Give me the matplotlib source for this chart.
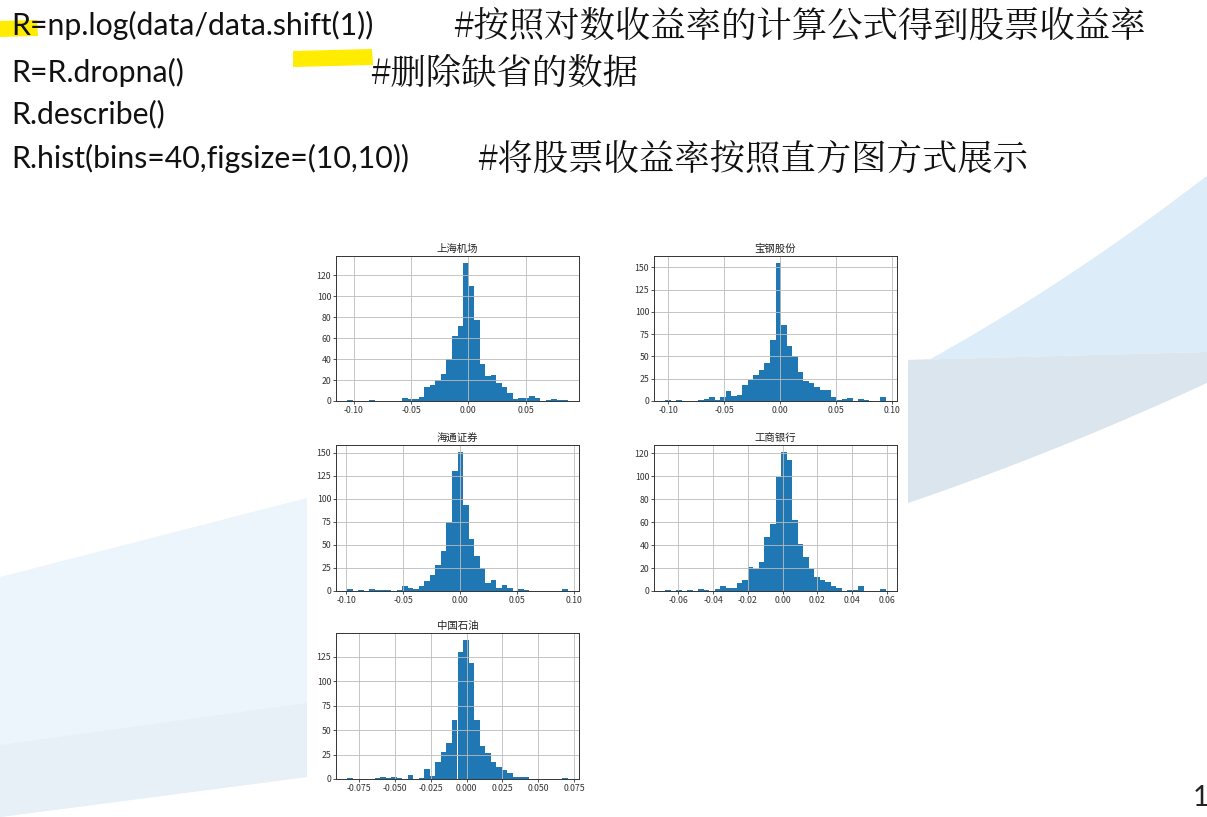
import numpy as np
import matplotlib
matplotlib.use("Agg")
import matplotlib.pyplot as plt
from matplotlib.patches import Polygon, Rectangle
from matplotlib.ticker import MultipleLocator

plt.rcParams['font.family'] = ['Noto Sans CJK SC', 'DejaVu Sans']
plt.rcParams['axes.unicode_minus'] = False

# slide text
code_lines = ["R=np.log(data/data.shift(1))", "R=R.dropna()", "R.describe()",
              "R.hist(bins=40,figsize=(10,10))"]
comments = ["#按照对数收益率的计算公式得到股票收益率", "#删除缺省的数据", "",
            "#将股票收益率按照直方图方式展示"]

# histogram data: name, (min, max) of the returns, counts in 40 bins
names = ['上海机场', '宝钢股份', '海通证券', '工商银行', '中国石油']
ranges = [(-0.1058, 0.0869), (-0.1029, 0.0943), (-0.0991, 0.0947),
          (-0.0676, 0.0594), (-0.0836, 0.0708)]
shjc = [1, 0, 0, 0, 1, 0, 0, 0, 0, 0, 3, 2, 2, 4, 13, 15, 20, 26, 40, 62,
        72, 132, 110, 77, 35, 24, 25, 17, 13, 8, 2, 3, 3, 5, 3, 0, 1, 2, 1, 1]
bggf = [1, 0, 1, 0, 0, 0, 1, 2, 5, 1, 5, 11, 6, 7, 18, 24, 29, 35, 43, 68,
        155, 85, 62, 51, 32, 22, 20, 16, 12, 12, 5, 1, 2, 3, 0, 2, 1, 0, 0, 4]
htzq = [2, 0, 1, 0, 2, 1, 1, 1, 0, 1, 5, 3, 2, 5, 11, 17, 28, 43, 75, 130,
        151, 93, 57, 38, 25, 9, 12, 3, 6, 3, 0, 2, 1, 0, 0, 0, 0, 0, 0, 2]
gsyh = [1, 0, 1, 0, 1, 0, 2, 1, 0, 2, 4, 3, 3, 7, 10, 21, 19, 25, 47, 58,
        99, 121, 114, 62, 41, 30, 19, 12, 10, 8, 4, 3, 0, 1, 1, 4, 0, 0, 0, 2]
zgsy = [1, 0, 0, 0, 0, 1, 2, 1, 2, 1, 0, 4, 0, 1, 10, 3, 17, 28, 37, 60,
        130, 142, 118, 60, 34, 27, 17, 12, 9, 6, 2, 2, 2, 0, 0, 0, 0, 0, 0, 1]
counts = [shjc, bggf, htzq, gsyh, zgsy]
x_steps = [0.05, 0.05, 0.05, 0.02, 0.025]
y_steps = [20, 25, 25, 20, 25]

W, H = 1207, 817
fig = plt.figure(figsize=(W / 100, H / 100), dpi=100)
fig.patch.set_facecolor('white')

# background layer in pixel coordinates
bg = fig.add_axes([0, 0, 1, 1], zorder=0)
bg.set_xlim(0, W)
bg.set_ylim(H, 0)
bg.axis('off')

# decorative swooshes of the slide
bg.add_patch(Polygon([(0, 577), (307, 498), (307, 777), (0, 817)],
                     closed=True, color='#ecf5fc', lw=0))
bg.add_patch(Polygon([(0, 745), (307, 703), (307, 777), (0, 817)],
                     closed=True, color='#e7f0f7', lw=0))

# right side swoosh, smooth edges
sx = np.linspace(908, 1207, 60)
top_fit = np.polyfit([908, 1000, 1100, 1167, 1207], [372, 317, 253, 210, 173], 2)
low_fit = np.polyfit([908, 1000, 1100, 1207], [503, 470, 430, 383], 2)
top_edge = np.polyval(top_fit, sx)
low_edge = np.polyval(low_fit, sx)
band_top = np.interp(sx, [908, 1207], [360, 352])
blue = list(zip(sx, top_edge)) + list(zip(sx[::-1], band_top[::-1]))
bg.add_patch(Polygon(blue, closed=True, color='#dcecf8', lw=0))
gray = list(zip(sx, band_top)) + list(zip(sx[::-1], low_edge[::-1]))
bg.add_patch(Polygon(gray, closed=True, color='#dbe5ee', lw=0))

# white picture area
bg.add_patch(Rectangle((307, 233), 601, 567, color='white', lw=0))

# yellow marker strokes
bg.add_patch(Polygon([(0, 21), (37, 20), (38, 36), (0, 37)], closed=True,
                     color='#ffec00', lw=0))
bg.add_patch(Polygon([(293, 51), (372, 49), (373, 65), (293, 67)], closed=True,
                     color='#ffec00', lw=0))

# code text
latin = ['Lato', 'Noto Sans CJK SC']
baselines = [35, 82, 123, 168]
comment_x = [453, 370, 0, 477]
for code, com, yb, cx in zip(code_lines, comments, baselines, comment_x):
    bg.text(11, yb, code, fontsize=21.8, family=latin, va='baseline', color='#111111')
    if com:
        bg.text(cx, yb + 2, com, fontsize=25.5, family=['Noto Serif CJK SC', 'Noto Sans CJK SC'],
                va='baseline', color='#111111')

bg.text(1193, 806, '1', fontsize=20, family=latin, va='baseline', color='#222222')

# histogram axes (pixel boxes: left, right, top, bottom)
boxes = [(336, 579, 256, 401), (654, 897, 256, 401), (336, 579, 445, 591),
         (654, 897, 445, 591), (336, 579, 633, 779)]

for name, rng, cnt, box, xs, ys in zip(names, ranges, counts, boxes, x_steps, y_steps):
    l, r, t, b = box
    ax = fig.add_axes([l / W, 1 - b / H, (r - l) / W, (b - t) / H], zorder=2)
    edges = np.linspace(rng[0], rng[1], len(cnt) + 1)
    ax.hist(edges[:-1], bins=edges, weights=cnt, color='#1f77b4')
    ax.grid(True, color='#bcbcbc', lw=0.6)
    ax.xaxis.set_major_locator(MultipleLocator(xs))
    ax.yaxis.set_major_locator(MultipleLocator(ys))
    ax.set_title(name, fontsize=7.5, pad=3, color='#222222')
    ax.tick_params(labelsize=6.3, length=2, width=0.6, pad=1.5, colors='#333333')
    for s in ax.spines.values():
        s.set_linewidth(0.7)
        s.set_color('#333333')

fig.savefig('out.png', dpi=100, facecolor='white')
